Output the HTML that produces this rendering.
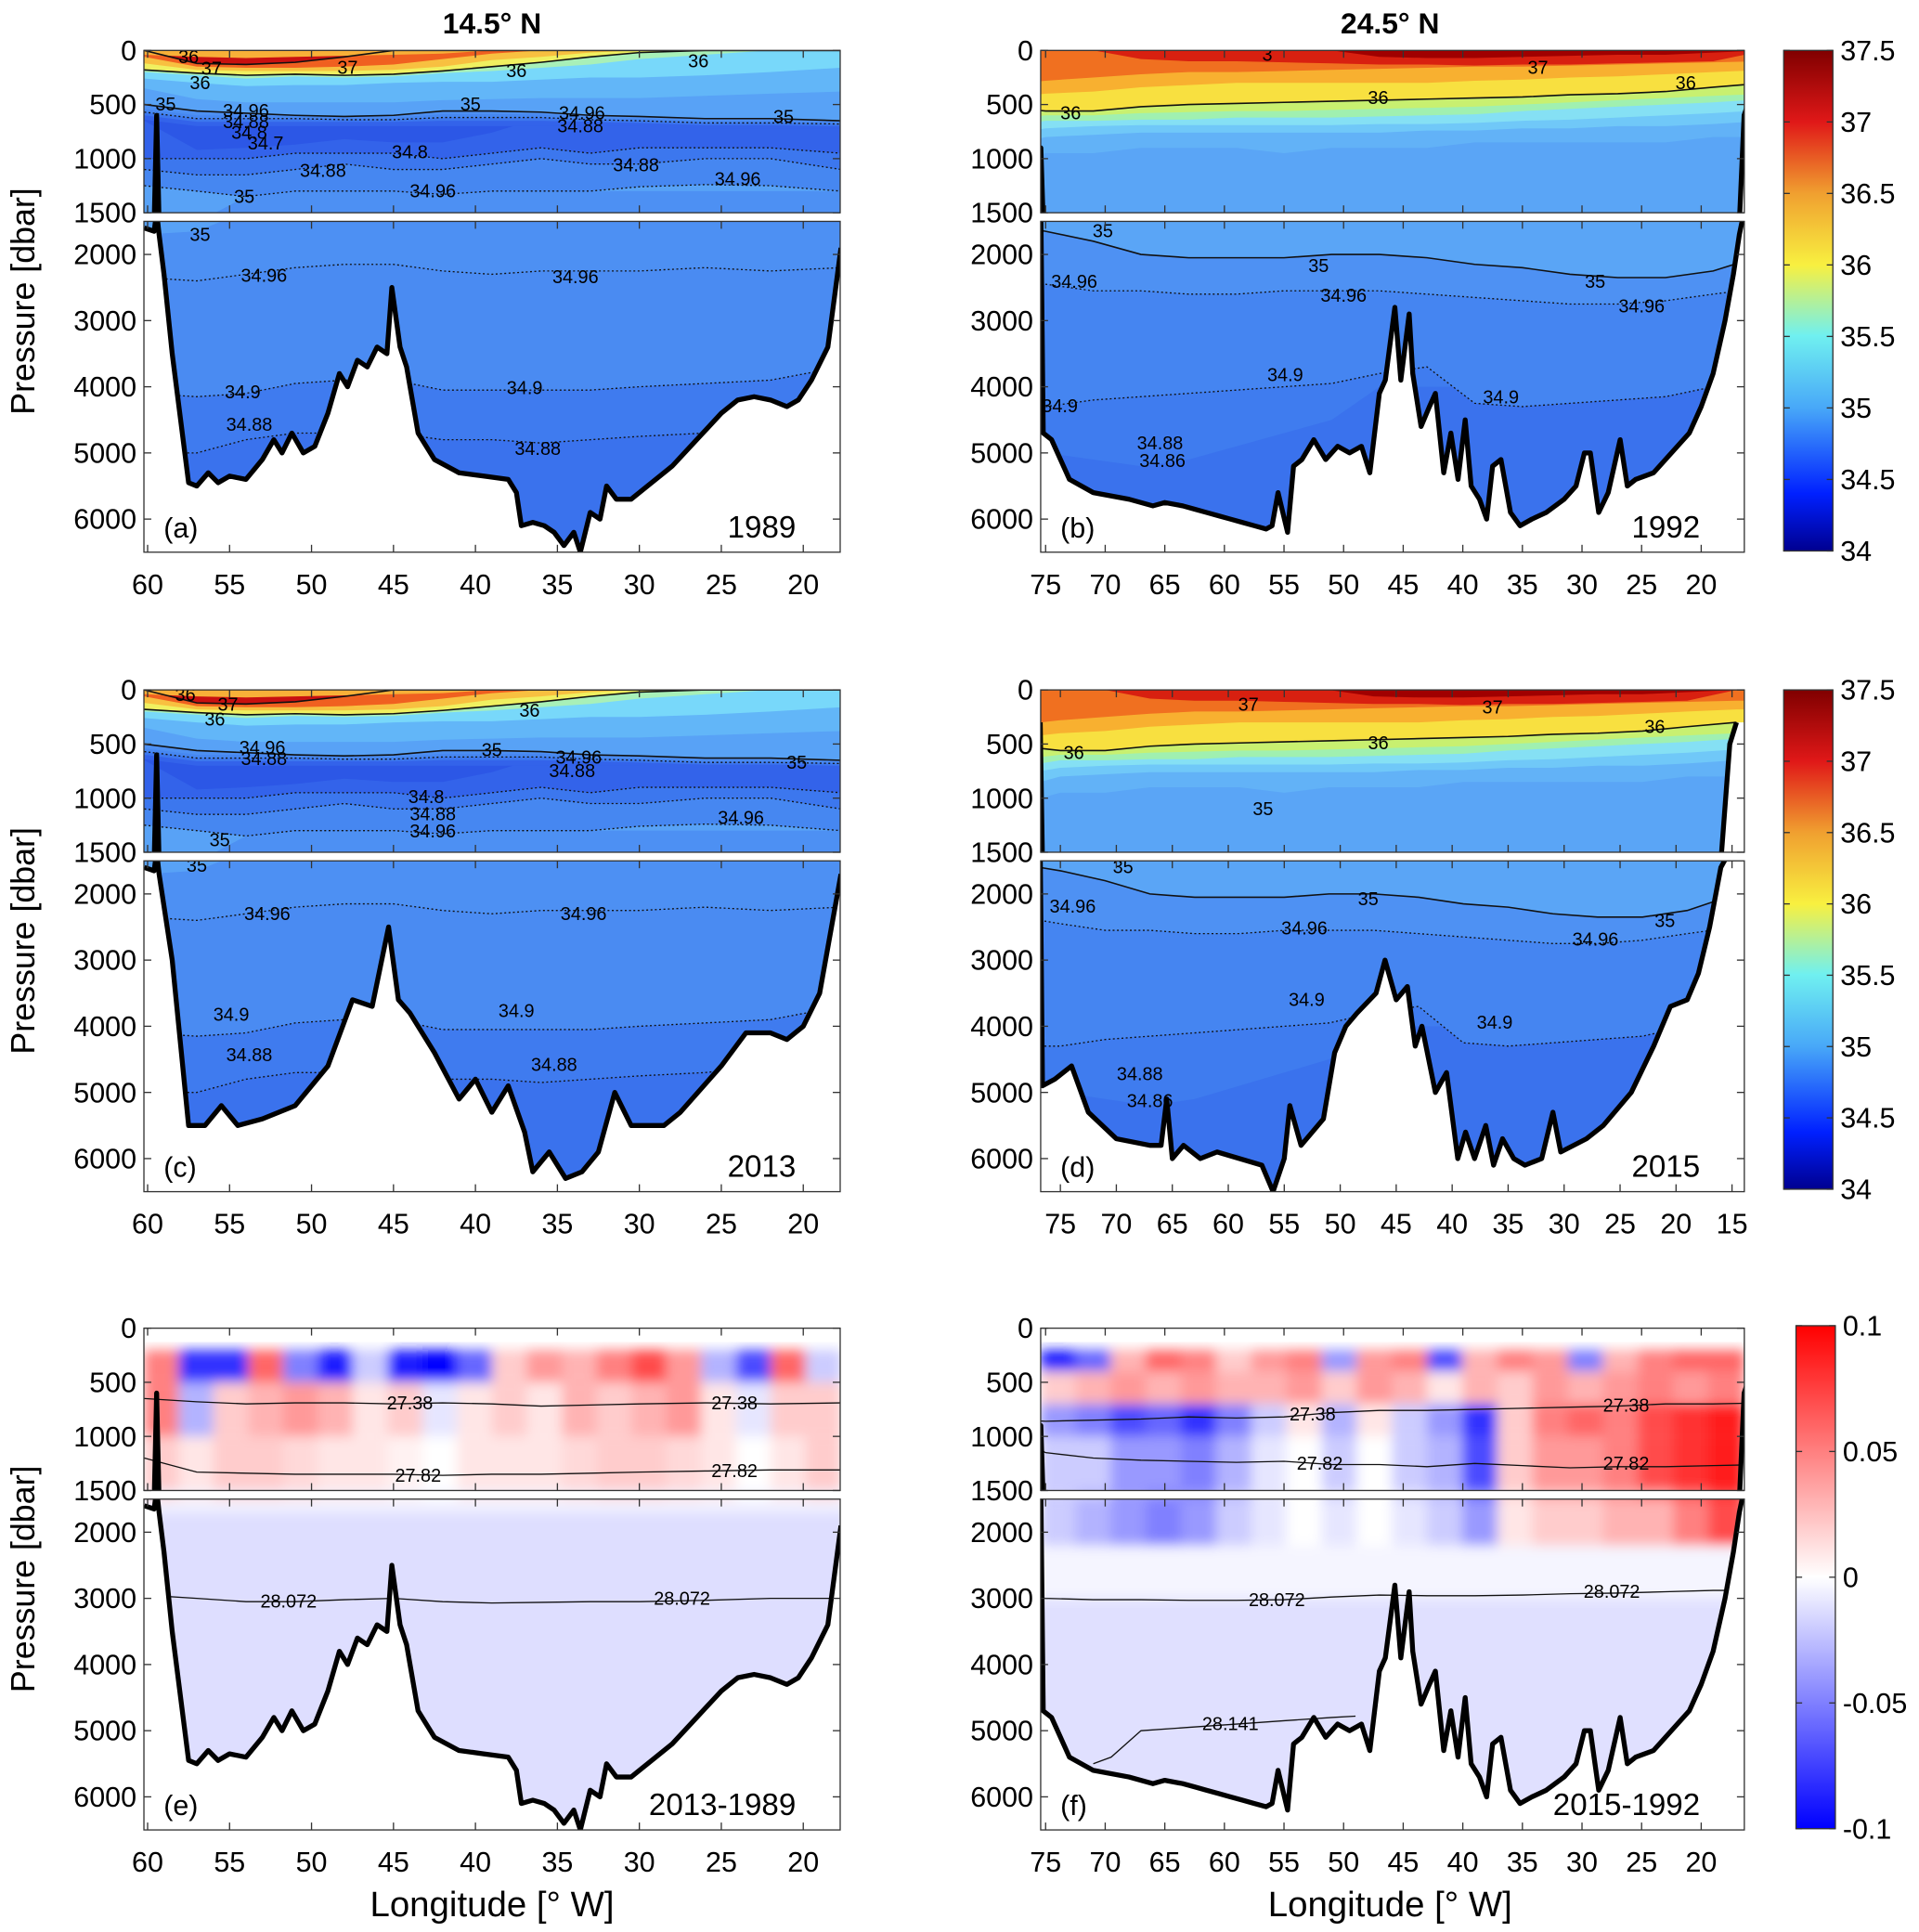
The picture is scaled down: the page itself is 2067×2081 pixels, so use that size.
<!DOCTYPE html>
<html><head><meta charset="utf-8">
<style>
html,body{margin:0;padding:0;background:#fff;width:2067px;height:2081px;overflow:hidden;}
svg{display:block;font-family:"Liberation Sans",Arial,sans-serif;}
</style></head>
<body>
<svg id="fig" xmlns="http://www.w3.org/2000/svg" width="2067" height="2081" viewBox="0 0 1560 1571" preserveAspectRatio="none">
<defs>
<linearGradient id="salGrad" x1="0" y1="1" x2="0" y2="0">
<stop offset="0" stop-color="#000090"/><stop offset="0.114" stop-color="#0020ff"/><stop offset="0.286" stop-color="#48a8f8"/><stop offset="0.43" stop-color="#70f0f0"/><stop offset="0.571" stop-color="#f8f040"/><stop offset="0.714" stop-color="#f0a030"/><stop offset="0.857" stop-color="#e01818"/><stop offset="1" stop-color="#800000"/>
</linearGradient>
<linearGradient id="divGrad" x1="0" y1="1" x2="0" y2="0">
<stop offset="0" stop-color="#0000ff"/><stop offset="0.5" stop-color="#ffffff"/><stop offset="1" stop-color="#ff0000"/>
</linearGradient>
<filter id="blur" x="-5%" y="-5%" width="110%" height="110%"><feGaussianBlur stdDeviation="5"/></filter>
</defs>
<g id="root"></g>
</svg>
<script>
// ---------- data ----------
const aLon=[60.2,57,54,51,48,45,42,39,36,33,30,26,22,17.7];
const aBg='#3a72ed';
const aL1=[5000,5000,4800,4700,4700,4700,4800,4800,4850,4800,4750,4700,4600,4400];
const aL2=[4100,4150,4100,3950,3900,3900,4050,4050,4050,4050,4000,3950,3900,3700];
const aL3=[2350,2400,2300,2200,2150,2150,2250,2300,2250,2250,2250,2200,2250,2200];
const aL4=[1700,1650,1350,1300,1300,1300,1300,1300,1300,1300,1300,1300,1300,1300];
const aL5=[1250,1300,1350,1300,1300,1300,1330,1300,1300,1300,1260,1240,1250,1300];
const aL6=[1100,1150,1150,1100,1050,1100,1100,1050,1000,1050,1050,1000,1000,1100];
const aL7=[1000,1000,1000,950,950,950,1000,950,900,950,900,900,900,950];
const aL8=[650,920,900,870,820,850,850,760,620,600,600,600,600,600];
const aL9=[640,700,700,700,700,700,700,700,700,700,700,720,720,720];
const aL10=[600,660,660,660,660,660,650,650,650,660,670,690,690,700];
const aL11=[570,630,630,630,640,640,620,620,620,640,650,670,670,680];
const aL12=[540,600,600,610,620,620,590,590,590,620,630,650,650,660];
const aL13=[500,560,580,600,610,600,560,560,570,600,610,630,630,650];
const aL14=[350,450,480,480,480,480,460,450,440,440,440,420,400,380];
const aL15=[260,300,330,320,320,300,290,290,270,250,250,230,200,160];
const aL16=[200,230,260,240,250,240,210,190,160,130,80,40,0,0];
const aL17=[180,210,230,220,230,220,190,150,110,60,20,0,0,0];
const aL18=[120,180,190,190,190,180,150,90,60,20,0,0,0,0];
const aL19=[60,150,160,160,150,130,80,30,0,0,0,0,0,0];
const aL20=[0,120,130,110,60,0,0,0,0,0,0,0,0,0];
const aL21=[40,60,70,60,50,40,30,0,0,0,0,0,0,0];
const aLayers=[
 {c:'#3f7bef',d:aL1,ln:'dot'},{c:'#4a8bf2',d:aL2,ln:'dot'},{c:'#4d90f3',d:aL3,ln:'dot'},
 {c:'#58a2f6',d:aL4,ln:''},{c:'#4687f1',d:aL5,ln:'dot'},{c:'#3c77ee',d:aL6,ln:'dot'},
 {c:'#3363ea',d:aL7,ln:'dot'},{c:'#2c57e6',d:aL8,ln:''},{c:'#3363ea',d:aL9,ln:''},
 {c:'#3c77ee',d:aL10,ln:''},{c:'#4687f1',d:aL11,ln:'dot'},{c:'#4d90f3',d:aL12,ln:''},
 {c:'#58a2f6',d:aL13,ln:'solid'},{c:'#62b6f8',d:aL14,ln:''},{c:'#78d8fa',d:aL15,ln:''},
 {c:'#a8f0b8',d:aL16,ln:''},{c:'#f0f060',d:aL17,ln:'solid'},{c:'#f8c040',d:aL18,ln:''},
 {c:'#f06020',d:aL19,ln:''},{c:'#c81010',d:aL20,ln:'solid'},{c:'#f8b038',d:aL21,ln:''}];

const bLon=[76.8,75,71,67,63,59,55,51,47,43,39,35,31,27,23,19,14.6];
const bBg='#3a72ed';
const bL1=[5000,5000,5100,5200,5100,4900,4700,4500,4000,4000,4000,4000,4000,4000,3900,3800,3700];
const bL2=[4300,4300,4200,4150,4100,4050,4000,3950,3800,3700,4250,4300,4250,4200,4150,4000,3900];
const bL3=[2400,2450,2550,2550,2600,2600,2550,2550,2550,2600,2650,2700,2750,2750,2700,2600,2500];
const bL4=[1600,1650,1800,2000,2050,2050,2050,2000,2000,2050,2150,2200,2300,2350,2350,2250,2000];
const bL5=[1000,950,950,900,900,900,950,900,900,900,850,850,850,850,850,800,800];
const bL6=[850,800,780,760,760,760,760,760,760,740,740,720,720,700,700,680,650];
const bL7=[750,720,700,690,690,690,690,690,680,680,670,650,640,620,600,580,550];
const bL8=[680,650,650,640,640,620,620,620,610,600,590,560,540,520,500,480,450];
const bL9=[620,600,600,580,570,560,560,550,540,530,520,500,480,460,440,420,400];
const bL10=[540,560,560,520,500,490,480,470,460,450,440,430,410,400,380,340,300];
const bL11=[420,400,380,340,320,300,300,300,300,300,280,270,250,240,220,200,180];
const bL12=[300,280,250,220,200,200,190,180,170,160,150,150,140,130,120,110,100];
const bL13=[0,0,0,80,100,100,110,120,130,130,140,130,130,120,110,100,0];
const bL14=[0,0,0,0,0,0,0,0,60,70,70,60,50,40,40,20,0];
const bLayers=[
 {c:'#3f7cef',d:bL1,ln:''},{c:'#4585f1',d:bL2,ln:'dot'},{c:'#4e91f3',d:bL3,ln:'dot'},
 {c:'#5aa5f6',d:bL4,ln:'solid'},{c:'#62b2f7',d:bL5,ln:''},{c:'#70c8f8',d:bL6,ln:''},
 {c:'#85e0f4',d:bL7,ln:''},{c:'#a0f0b0',d:bL8,ln:''},{c:'#c8f070',d:bL9,ln:''},
 {c:'#f8e040',d:bL10,ln:'solid'},{c:'#f8b030',d:bL11,ln:''},{c:'#f07020',d:bL12,ln:''},
 {c:'#d82010',d:bL13,ln:''},{c:'#a00000',d:bL14,ln:''}];

const aBLon=[60.2,59.6,59.45,59.3,59.0,58.5,57.5,57,56.3,55.7,55,54,53,52.3,51.8,51.2,50.5,49.8,49,48.3,47.8,47.2,46.6,46,45.4,45.1,44.6,44.2,43.5,42.5,41,39.5,38,37.5,37.2,36.5,35.8,35.2,34.6,34,33.6,33,32.4,32,31.4,30.5,29.5,28,26.5,25,24,23,22,21,20.3,19.5,18.5,17.7];
const aBP=[1600,1650,600,1700,2300,3500,5450,5500,5300,5450,5350,5400,5100,4800,5000,4700,5000,4900,4400,3800,4000,3600,3700,3400,3500,2500,3400,3700,4700,5100,5300,5350,5400,5600,6100,6050,6100,6200,6400,6200,6500,5900,6000,5500,5700,5700,5500,5200,4800,4400,4200,4150,4200,4300,4200,3900,3400,1900];
const bBLon=[76.8,75.4,75.2,74.5,73,71,68,66,65,63.5,62.5,61.5,60.5,59.5,58.5,57.5,56.5,56,55.5,54.7,54.2,53.5,52.5,51.5,50.5,49.5,48.5,47.8,47,46.5,45.7,45.2,44.5,44.2,43.5,42.8,42.3,41.6,41,40.4,39.8,39.3,38.6,38,37.5,36.8,36,35.2,34.2,33,31.5,30.5,29.8,29.3,28.6,27.8,26.8,26.2,25.5,24,22.5,21,20,19,18,17.3,16.8,16.4,14.6];
const bBP=[900,900,4700,4800,5400,5600,5700,5800,5750,5800,5850,5900,5950,6000,6050,6100,6150,6100,5600,6200,5200,5100,4800,5100,4900,5000,4900,5300,4100,3900,2800,3900,2900,3800,4600,4300,4100,5300,4700,5400,4500,5500,5700,6000,5200,5100,5900,6100,6000,5900,5700,5500,5000,5000,5900,5600,4800,5500,5400,5300,5000,4700,4300,3800,3000,2300,1700,600,0];
const cBLon=[60.2,59.6,59.45,59.3,58.5,57.5,56.5,55.5,54.5,53,51,49,47.5,46.3,45.3,44.7,44,42.5,41,40,39,38,37,36.5,35.5,34.5,33.5,32.5,31.5,30.5,28.5,27.5,25,23.5,22,21,20,19,17.7];
const cBP=[1600,1650,600,1700,3000,5500,5500,5200,5500,5400,5200,4600,3600,3700,2500,3600,3800,4400,5100,4800,5300,4900,5600,6200,5900,6300,6200,5900,5000,5500,5500,5300,4600,4100,4100,4200,4000,3500,1700];
const dBLon=[76.8,76.6,75.5,74,72.5,70,67,66,65.5,65,64,62.5,61,59,57,56,55,54.5,53.5,52.5,51.5,50.5,49.5,48.5,46.8,46,45,44,43.3,42.7,41.5,40.5,39.5,38.8,38,37,36.3,35.5,34.5,33.5,32,31,30.3,28,26.5,24,22,20.5,19,18,17,16,15.2,14.6];
const dBP=[300,4900,4800,4600,5300,5700,5800,5800,5100,6000,5800,6000,5900,6000,6100,6500,6000,5200,5800,5600,5400,4400,4000,3800,3500,3000,3600,3400,4300,4000,5000,4700,6000,5600,6000,5500,6100,5700,6000,6100,6000,5300,5900,5700,5500,5000,4300,3700,3600,3200,2500,1600,500,300];

// difference heatmaps
const eRowTop=[200,500,1000];
const eRowBot=[500,1000,1500];
const eRow1=[0.05,-0.08,-0.08,0.06,-0.05,-0.09,-0.02,-0.09,-0.1,-0.06,0.02,0.04,0.03,0.05,0.07,0.04,-0.03,-0.07,0.06,-0.02];
const eRow2=[0.05,-0.03,0.02,0.03,0.04,0.03,0.01,0.02,-0.01,0.01,0.02,0.01,0.03,0.02,0.03,0.04,0.01,-0.01,0.02,0.02];
const eRow3=[0.02,0.01,0.02,0.02,0.015,0.01,0.01,0.005,0.0,0.01,0.01,0.01,0.015,0.02,0.02,0.015,0.01,0.0,0.01,0.02];
const eBandTop=[1500,1700];
const eBandBot=[1700,7000];
const eBandVal=[-0.005,-0.013];
const fRowTop=[200,400,700,1000,1500];
const fRowBot=[400,700,1000,1500,2200];
const fRow1=[-0.09,-0.06,0.03,0.06,0.05,0.02,0.04,0.05,-0.04,0.04,0.05,-0.07,0.03,0.05,0.04,-0.05,0.03,0.05,0.06,0.06];
const fRow2=[0.02,0.03,0.04,0.03,0.04,0.03,0.03,0.04,0.02,0.04,0.03,0.01,0.03,0.02,0.04,0.03,0.04,0.05,0.04,0.05];
const fRow3=[-0.04,-0.05,-0.07,-0.06,-0.08,-0.05,-0.02,0.01,-0.03,0.01,-0.02,-0.04,-0.08,0.02,0.05,0.06,0.05,0.07,0.08,0.09];
const fRow4=[-0.02,-0.02,-0.04,-0.04,-0.05,-0.03,-0.01,0.0,-0.02,0.0,-0.02,-0.03,-0.07,0.02,0.04,0.04,0.05,0.07,0.08,0.09];
const fRow5=[-0.02,-0.03,-0.04,-0.05,-0.04,-0.02,-0.01,0,-0.01,0,-0.01,-0.02,-0.04,0.01,0.02,0.02,0.03,0.03,0.05,0.07];
const fBandTop=[2200,3000];
const fBandBot=[3000,7000];
const fBandVal=[-0.004,-0.012];

// density contours
const eIsoLon=[60.2,57,54,51,48,45,42,39,36,33,30,26,22,17.7];
const e2738=[650,680,700,690,690,700,690,700,720,710,700,690,700,690];
const e2782=[1200,1330,1340,1350,1350,1350,1360,1350,1350,1340,1330,1320,1310,1310];
const e28072=[2950,3000,3050,3050,3020,3000,3050,3070,3060,3050,3050,3030,3000,3000];
const f2738=[850,860,850,840,820,830,820,780,760,760,750,740,730,720,700,700,690];
const f2782=[1050,1150,1200,1220,1230,1240,1230,1260,1260,1280,1250,1270,1290,1280,1280,1270,1260];
const f28072=[2950,3000,3020,3020,3030,3030,3020,2980,2950,2960,2960,2950,2930,2920,2900,2880,2880];
const f28141Lon=[71,69.5,67,63,59,55,51,49];
const f28141=[5500,5400,5000,4950,4900,4850,4800,4780];

// contour labels [text, lon, pressure]
const aLabels=[["36",57.5,60],["37",56.1,170],["37",47.8,160],["36",56.8,300],["36",37.5,190],["36",26.4,100],["35",58.9,500],["34.96",54,560],["34.88",54,660],["34.8",53.8,760],["35",40.3,500],["34.96",33.5,580],["34.88",33.6,700],["34.7",52.8,860],["35",21.2,615],["34.8",44,940],["34.88",49.3,1110],["34.88",30.2,1060],["34.96",42.6,1300],["34.96",24,1190],["35",54.1,1350],["35",56.8,1705],["34.96",52.9,2320],["34.96",33.9,2340],["34.9",54.2,4080],["34.9",37,4020],["34.88",53.8,4570],["34.88",36.2,4940]];
const bLabels=[["3",56.4,40],["37",33.7,160],["36",21.3,300],["36",47.1,440],["36",72.9,580],["35",70.2,1650],["35",52.1,2170],["35",28.9,2410],["34.96",72.6,2410],["34.96",50,2620],["34.96",25,2780],["34.9",54.9,3820],["34.9",36.8,4160],["34.9",73.8,4290],["34.88",65.4,4850],["34.86",65.2,5120]];
const cLabels=[["36",57.7,45],["37",55.1,136],["36",55.9,273],["36",36.7,193],["35",39,557],["34.96",53,534],["34.88",52.9,636],["34.96",33.7,625],["34.88",34.1,750],["35",20.4,670],["34.8",43,989],["34.88",42.6,1148],["34.96",42.6,1307],["34.96",23.8,1182],["35",55.6,1386],["35",57,1574],["34.96",52.7,2299],["34.96",33.4,2299],["34.9",54.9,3823],["34.9",37.5,3768],["34.88",53.8,4437],["34.88",35.2,4585]];
const dLabels=[["37",58.2,136],["37",36.4,160],["36",46.6,490],["36",73.8,580],["36",21.9,340],["35",56.9,1100],["35",69.4,1590],["35",47.5,2076],["35",21,2410],["34.96",73.9,2190],["34.96",53.2,2520],["34.96",27.2,2690],["34.9",53,3600],["34.9",36.2,3940],["34.88",67.9,4720],["34.86",67,5130]];
const eLabels=[["27.38",44,693],["27.38",24.2,693],["27.82",43.5,1364],["27.82",24.2,1318],["28.072",51.4,3043],["28.072",27.4,3006]];
const fLabels=[["27.38",52.6,795],["27.38",26.3,716],["27.82",52,1250],["27.82",26.3,1250],["28.072",55.6,3025],["28.072",27.5,2895],["28.141",59.5,4900]];

const xTicksA=[60,55,50,45,40,35,30,25,20];
const xTicksB=[75,70,65,60,55,50,45,40,35,30,25,20];
const xTicksD=[75,70,65,60,55,50,45,40,35,30,25,20,15];
const yTicksU=[0,500,1000,1500];
const yTicksL=[2000,3000,4000,5000,6000];
const salTicks=[34,34.5,35,35.5,36,36.5,37,37.5];
const difTicks=[-0.1,-0.05,0,0.05,0.1];

// ---------- geometry ----------
const NS='http://www.w3.org/2000/svg';
const root=document.getElementById('root');
const rowT=[41,561,1080];
const colX=[[117,683],[846,1418]];
function yU(r,p){return rowT[r]+p*0.088;}
function yL(r,p){return rowT[r]+139+(p-1500)*0.0538;}
function xA(l){return 120+(60-l)*13.325;}
function xB(l){return 850+(75-l)*9.69;}
function xD(l){return 862+(75-l)*9.1;}
function mk(tag,attrs,parent){const e=document.createElementNS(NS,tag);for(const k in attrs)e.setAttribute(k,attrs[k]);(parent||root).appendChild(e);return e;}
function divColor(v){let t=Math.max(-1,Math.min(1,v/0.1));let r,g,b;if(t>=0){r=255;g=b=Math.round(255*(1-t));}else{b=255;r=g=Math.round(255*(1+t));}return `rgb(${r},${g},${b})`;}

const panels=[
 {id:'a',row:0,col:0,xf:xA,lon:aLon,bg:aBg,layers:aLayers,bl:aBLon,bp:aBP,labels:aLabels,tag:'(a)',year:'1989',ticks:xTicksA},
 {id:'b',row:0,col:1,xf:xB,lon:bLon,bg:bBg,layers:bLayers,bl:bBLon,bp:bBP,labels:bLabels,tag:'(b)',year:'1992',ticks:xTicksB},
 {id:'c',row:1,col:0,xf:xA,lon:aLon,bg:aBg,layers:aLayers,bl:cBLon,bp:cBP,labels:cLabels,tag:'(c)',year:'2013',ticks:xTicksA},
 {id:'d',row:1,col:1,xf:xD,lon:bLon,bg:bBg,layers:bLayers,bl:dBLon,bp:dBP,labels:dLabels,tag:'(d)',year:'2015',ticks:xTicksD},
 {id:'e',row:2,col:0,xf:xA,diff:true,rowTop:eRowTop,rowBot:eRowBot,rows:[eRow1,eRow2,eRow3],bandTop:eBandTop,bandBot:eBandBot,bandVal:eBandVal,
  iso:[[eIsoLon,e2738],[eIsoLon,e2782],[eIsoLon,e28072]],bl:aBLon,bp:aBP,labels:eLabels,tag:'(e)',year:'2013-1989',ticks:xTicksA},
 {id:'f',row:2,col:1,xf:xB,diff:true,rowTop:fRowTop,rowBot:fRowBot,rows:[fRow1,fRow2,fRow3,fRow4,fRow5],bandTop:fBandTop,bandBot:fBandBot,bandVal:fBandVal,
  iso:[[bLon,f2738],[bLon,f2782],[bLon,f28072],[f28141Lon,f28141]],bl:bBLon,bp:bBP,labels:fLabels,tag:'(f)',year:'2015-1992',ticks:xTicksB}
];

const defs=document.querySelector('defs');
panels.forEach(P=>{
 const r=P.row,[x0,x1]=colX[P.col],w=x1-x0,t=rowT[r];
 const g=mk('g',{},root);
 
 
 const subs=[['U',t,132,yU],['L',t+139,269,yL]];
 subs.forEach(([s,top,h,ymap])=>{
  const yf=p=>Math.max(top-8,Math.min(top+h+8,ymap(r,p)));
  const cp=mk('clipPath',{id:'clip'+s+P.id},defs);
  mk('rect',{x:x0,y:top,width:w,height:h},cp);
  const sg=mk('g',{'clip-path':`url(#clip${s}${P.id})`},g);
  
  
  const X=P.xf;
  if(!P.diff){
   const bgR=mk('rect',{x:x0,y:top,width:w,height:h,fill:P.bg},sg);
   
   
   P.layers.forEach((L,i)=>{
    let pts=[[X(P.lon[0])-30,yf(-200)],[X(P.lon[P.lon.length-1])+30,yf(-200)],[X(P.lon[P.lon.length-1])+30,yf(L.d[L.d.length-1])]];
    for(let k=P.lon.length-1;k>=0;k--)pts.push([X(P.lon[k]),yf(L.d[k])]);
    pts.push([X(P.lon[0])-30,yf(L.d[0])]);
    const pg=mk('polygon',{points:pts.map(q=>q.join(',')).join(' '),fill:L.c},sg);
    
    
   });
   P.layers.forEach(L=>{
    if(!L.ln)return;
    const pl=mk('polyline',{points:P.lon.map((l,k)=>X(l)+','+yf(L.d[k])).join(' '),fill:'none',stroke:'#111','stroke-width':L.ln==='dot'?1:1.2,'stroke-dasharray':L.ln==='dot'?'1.5 2':'none'},sg);
    
    
   });
  } else {
   mk('rect',{x:x0,y:top,width:w,height:h,fill:'#fff'},sg);
   const hg=mk('g',{filter:'url(#blur)'},sg);
   
   
   P.bandTop.forEach((bt,k)=>{
    const rc=mk('rect',{x:x0-10,y:yf(bt),width:w+20,height:Math.max(0,yf(P.bandBot[k])-yf(bt)),fill:divColor(P.bandVal[k])},hg);
    
    
   });
   const l0=P.xf===xA?60.2:75.4,l1=P.xf===xA?17.7:16.4;
   P.rows.forEach((row,ri)=>{
    const n=row.length;
    row.forEach((v,ci)=>{
     const la=l0+(l1-l0)*ci/n,lb=l0+(l1-l0)*(ci+1)/n;
     const rc=mk('rect',{x:X(la)-0.5,y:yf(P.rowTop[ri]),width:X(lb)-X(la)+1,height:Math.max(0,yf(P.rowBot[ri])-yf(P.rowTop[ri])),fill:divColor(v)},hg);
     
     
    });
   });
   P.iso.forEach(([lons,ps])=>{
    const pl=mk('polyline',{points:lons.map((l,k)=>X(l)+','+yf(ps[k])).join(' '),fill:'none',stroke:'#111','stroke-width':1},sg);
    
    
   });
  }
  // bathymetry mask
  let bpts=P.bl.map((l,k)=>[X(l),yf(P.bp[k])]);
  const last=P.bl.length-1;
  const poly=bpts.concat([[X(P.bl[last])+40,yf(P.bp[last])],[X(P.bl[last])+40,yf(8000)],[X(P.bl[0])-40,yf(8000)],[X(P.bl[0])-40,yf(P.bp[0])]]);
  const wm=mk('polygon',{points:poly.map(q=>q.join(',')).join(' '),fill:'#fff'},sg);
  
  
  const bl=mk('polyline',{points:bpts.map(q=>q.join(',')).join(' '),fill:'none',stroke:'#000','stroke-width':4,'stroke-linejoin':'round'},sg);
  
  
  // labels
  P.labels.forEach(([txt,l,p])=>{
   const inU=p<=1500;
   if((s==='U')!==inU)return;
   const tx=mk('text',{x:X(l),y:yf(p)+5,'font-size':15,'text-anchor':'middle',fill:'#000'},sg);
   tx.textContent=txt;
   
   
  });
  // frame
  const fr=mk('rect',{x:x0,y:top,width:w,height:h,fill:'none',stroke:'#333','stroke-width':1},g);
  
  
  P.ticks.forEach(tv=>{
   const xx=X(tv);
   mk('line',{x1:xx,x2:xx,y1:top+h,y2:top+h-6,stroke:'#333'},g);
   mk('line',{x1:xx,x2:xx,y1:top,y2:top+6,stroke:'#333'},g);
  });
  (s==='U'?yTicksU:yTicksL).forEach(pv=>{
   const yy=yf(pv);
   mk('line',{x1:x0,x2:x0+6,y1:yy,y2:yy,stroke:'#333'},g);
   mk('line',{x1:x1,x2:x1-6,y1:yy,y2:yy,stroke:'#333'},g);
   const tl=mk('text',{x:x0-6,y:yy+8,'font-size':23,'text-anchor':'end'},g);
   tl.textContent=String(pv);
   
   
  });
 });
 P.ticks.forEach(tv=>{
  const tl=mk('text',{x:P.xf(tv),y:t+442,'font-size':23,'text-anchor':'middle'},g);
  tl.textContent=String(tv);
  
  
 });
 const tg=mk('text',{x:x0+16,y:t+396,'font-size':23},g);
 tg.textContent=P.tag;
 
 
 const yr=mk('text',{x:x1-36,y:t+396,'font-size':25,'text-anchor':'end'},g);
 yr.textContent=P.year;
 
 
});

// axis titles
[rowT[0],rowT[1],rowT[2]].forEach(t=>{
 const yt=mk('text',{x:0,y:0,'font-size':27,'text-anchor':'middle',transform:`translate(28,${t+204}) rotate(-90)`});
 yt.textContent='Pressure [dbar]';
 
 
});
[[400,'14.5° N'],[1130,'24.5° N']].forEach(([x,s])=>{
 const tt=mk('text',{x:x,y:27,'font-size':24,'font-weight':'bold','text-anchor':'middle'});
 tt.textContent=s;
 
 
});
[400,1130].forEach(x=>{
 const xt=mk('text',{x:x,y:1558,'font-size':29,'text-anchor':'middle'});
 xt.textContent='Longitude [° W]';
 
 
});

// colorbars
function colorbar(x,y0,y1,w,grad,ticks,vmin,vmax,name){
 const g=mk('g',{});
 
 
 mk('rect',{x:x,y:y0,width:w,height:y1-y0,fill:`url(#${grad})`,stroke:'#333','stroke-width':1},g);
 ticks.forEach(v=>{
  const yy=y1-(v-vmin)/(vmax-vmin)*(y1-y0);
  mk('line',{x1:x,x2:x+5,y1:yy,y2:yy,stroke:'#333'},g);
  mk('line',{x1:x+w,x2:x+w-5,y1:yy,y2:yy,stroke:'#333'},g);
  const tl=mk('text',{x:x+w+6,y:yy+8,'font-size':23},g);
  tl.textContent=String(v);
  
  
 });
}
colorbar(1450,41,448,40,'salGrad',salTicks,34,37.5,'salinity-colorbar-1');
colorbar(1450,561,967,40,'salGrad',salTicks,34,37.5,'salinity-colorbar-2');
colorbar(1460,1078,1487,32,'divGrad',difTicks,-0.1,0.1,'difference-colorbar');
</script>
</body></html>
